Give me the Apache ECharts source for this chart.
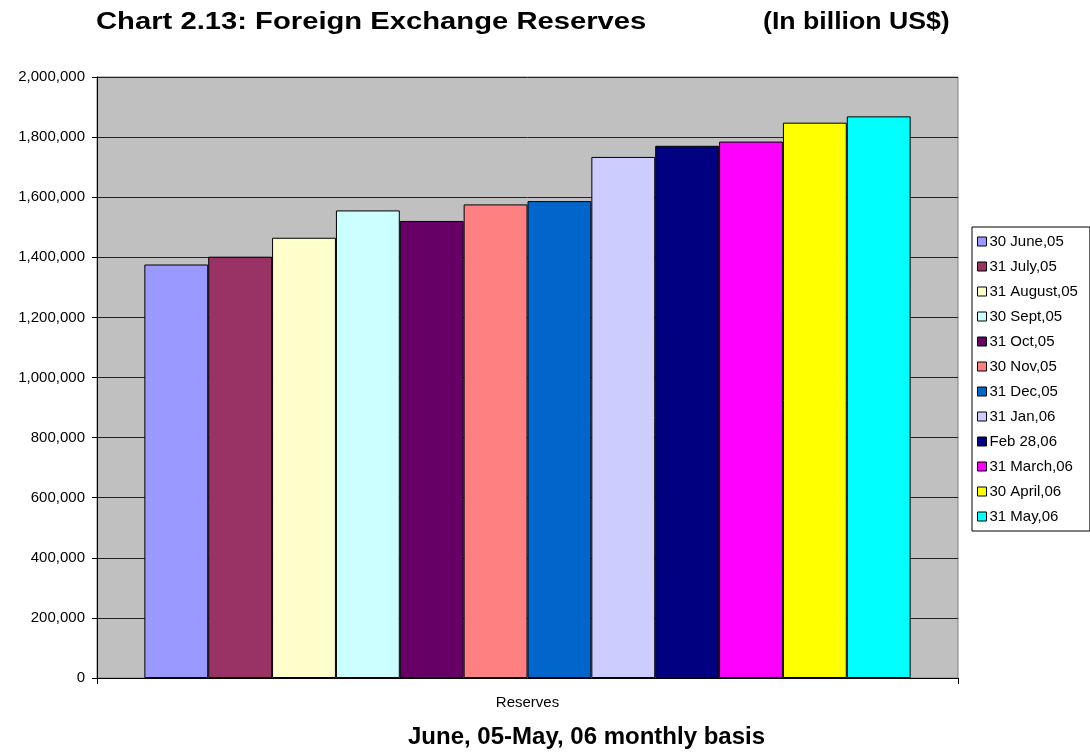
<!DOCTYPE html>
<html>
<head>
<meta charset="utf-8">
<title>Foreign Exchange Reserves</title>
<script src="https://cdn.jsdelivr.net/npm/echarts@6/dist/echarts.min.js"></script>
<style>
  html, body { margin: 0; padding: 0; background: #fff; }
  #chart { width: 1090px; height: 752px; }
</style>
</head>
<body>
<div id="chart"></div>
<script>
// Month-end reserve levels, June 2005 to May 2006
const categories = ['Reserves'];
const periods = [
  '30 June,05', '31 July,05', '31 August,05', '30 Sept,05', '31 Oct,05', '30 Nov,05',
  '31 Dec,05', '31 Jan,06', 'Feb 28,06', '31 March,06', '30 April,06', '31 May,06'
];
const reserves = [
  1376000, 1402000, 1465000, 1556000, 1521000, 1576000,
  1587000, 1734000, 1771000, 1785000, 1848000, 1869000
];
const barColors = [
  '#9999FF', '#993366', '#FFFFCC', '#CCFFFF', '#660066', '#FF8080',
  '#0066CC', '#CCCCFF', '#000080', '#FF00FF', '#FFFF00', '#00FFFF'
];
const yTicks = { min: 0, max: 2000000, interval: 200000 };

const FONT = 'Arial, "Liberation Sans", sans-serif';

const chart = echarts.init(document.getElementById('chart'), null, { renderer: 'canvas' });

const series = periods.map((name, i) => ({
  name: name,
  type: 'bar',
  data: [reserves[i]],
  barGap: '0%',
  barCategoryGap: '11%',
  itemStyle: { color: barColors[i], borderColor: '#000', borderWidth: 1 },
  emphasis: { disabled: true },
  animation: false
}));

// Headings are drawn slightly widened, like the wide bold face of the original sheet
function heading(text, x, y, size, sx) {
  return {
    type: 'text',
    x: x, y: y,
    scaleX: sx, scaleY: 1,
    silent: true,
    style: {
      text: text,
      fontFamily: FONT, fontSize: size, fontWeight: 'bold',
      fill: '#000', align: 'left', verticalAlign: 'middle'
    }
  };
}

chart.setOption({
  animation: false,
  graphic: [
    heading('Chart 2.13: Foreign Exchange Reserves', 96, 23, 23, 1.27),
    heading('(In billion US$)', 763, 23, 23, 1.16),
    heading('June, 05-May, 06 monthly basis', 408, 737, 24, 1)
  ],
  legend: {
    orient: 'vertical',
    left: 972, top: 227,
    width: 116,
    padding: [7, 12, 7, 5],
    itemWidth: 9, itemHeight: 9,
    itemGap: 10,
    icon: 'rect',
    itemStyle: { borderColor: '#000', borderWidth: 1 },
    backgroundColor: '#fff',
    borderColor: '#000', borderWidth: 1,
    selectedMode: false,
    textStyle: { fontFamily: FONT, fontSize: 15, color: '#000', lineHeight: 15, padding: [0, 0, 0, -2] },
    data: periods
  },
  grid: {
    left: 97, right: 132, top: 77, bottom: 74,
    show: true,
    backgroundColor: '#C0C0C0',
    borderColor: '#808080', borderWidth: 1,
    containLabel: false
  },
  xAxis: {
    type: 'category',
    data: categories,
    axisLine: { show: true, lineStyle: { color: '#000', width: 1 } },
    axisTick: { show: true, length: 6, lineStyle: { color: '#000' } },
    axisLabel: { fontFamily: FONT, fontSize: 15, color: '#000', margin: 17 }
  },
  yAxis: {
    type: 'value',
    min: yTicks.min, max: yTicks.max, interval: yTicks.interval,
    axisLine: { show: true, lineStyle: { color: '#000', width: 1 } },
    axisTick: { show: true, length: 5, lineStyle: { color: '#000' } },
    splitLine: { show: true, lineStyle: { color: '#222', width: 1 } },
    axisLabel: {
      fontFamily: FONT, fontSize: 15, color: '#000', margin: 12,
      formatter: v => v.toLocaleString('en-US')
    }
  },
  series: series
});
</script>
</body>
</html>
